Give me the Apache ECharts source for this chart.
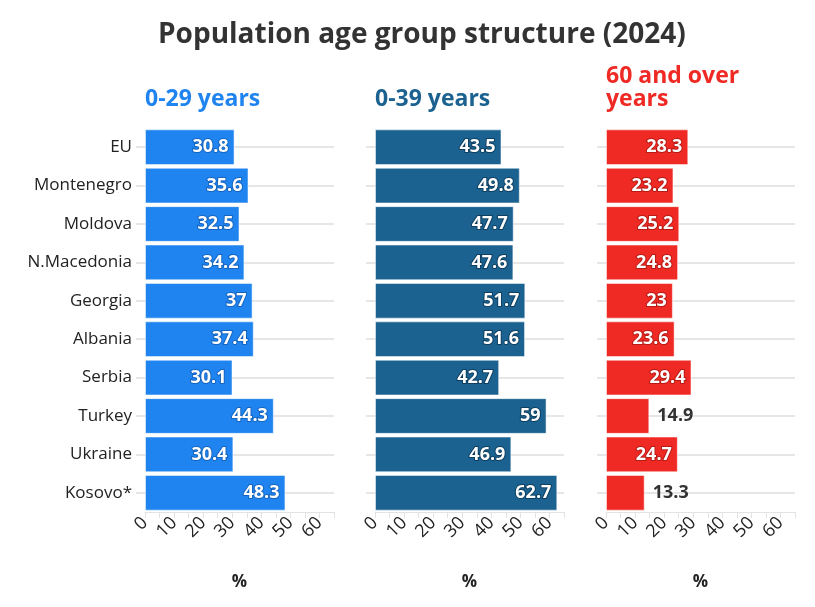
<!DOCTYPE html>
<html><head><meta charset="utf-8">
<script src="https://cdn.jsdelivr.net/npm/echarts@6/dist/echarts.min.js"></script>
<style>html,body{margin:0;padding:0;background:#fff}#c{width:815px;height:607px}</style>
</head><body><div id="c"></div>
<script>
var categories = ['EU','Montenegro','Moldova','N.Macedonia','Georgia','Albania','Serbia','Turkey','Ukraine','Kosovo*'];
var young29 = [30.8,35.6,32.5,34.2,37,37.4,30.1,44.3,30.4,48.3];
var young39 = [43.5,49.8,47.7,47.6,51.7,51.6,42.7,59,46.9,62.7];
var over60 = [28.3,23.2,25.2,24.8,23,23.6,29.4,14.9,24.7,13.3];
var panelTitles = ['0-29 years','0-39 years','60 and over\nyears'];
var colors = ['#1f84f0','#1b6290','#ef2923'];
var shadow = ['#1565c0','#0e3f60','#b81a15'];
var F = '"Open Sans", sans-serif';
var lefts = [145,375,606];
var W = 189;
var chart = echarts.init(document.getElementById('c'));
var seriesData = [young29, young39, over60];
var grids=[], xAxes=[], yAxes=[], series=[], titles=[];
titles.push({text:'Population age group structure (2024)',left:153,top:16,textStyle:{fontFamily:F,fontSize:28,fontWeight:'bold',color:'#333'}});
for (var i=0;i<3;i++){
  titles.push({text:panelTitles[i],left:lefts[i]-5,top:i===2?60:83,textStyle:{fontFamily:F,fontSize:23,fontWeight:'bold',color:colors[i],lineHeight:23}});
  grids.push({left:lefts[i],width:W,top:128,height:384});
  xAxes.push({type:'value',gridIndex:i,min:0,max:65,interval:5,
    name:'%',nameLocation:'middle',nameGap:62,nameTextStyle:{fontFamily:F,fontSize:17,fontWeight:'bold',color:'#222'},
    axisLine:{show:true,lineStyle:{color:'#e3e3e3',width:1}},
    axisTick:{show:true,length:6,lineStyle:{color:'#e3e3e3'}},
    splitLine:{show:false},
    axisLabel:{rotate:45,margin:8,fontFamily:F,fontSize:18,color:'#222',formatter:function(v){return v%10===0?String(v):'';}}});
  yAxes.push({type:'category',gridIndex:i,data:categories,inverse:true,
    axisLine:{show:false},
    axisTick:{show:true,alignWithLabel:true,length:9,lineStyle:{color:'#e6e6e6',width:2}},
    axisLabel:{show:i===0,fontFamily:F,fontSize:17,color:'#222',margin:13}});
  series.push({type:'line',xAxisIndex:i,yAxisIndex:i,data:[],z:1,silent:true,
    markLine:{z:1,silent:true,symbol:'none',label:{show:false},lineStyle:{color:'#e6e6e6',width:2,type:'solid'},
      data:categories.map(function(c){return {yAxis:c};})}});
  var d = seriesData[i].map(function(v){
    var inside = v>20;
    return {value:v,label:inside?{position:'insideRight',color:'#fff',textBorderColor:shadow[i],textBorderWidth:2}:{position:'right',color:'#333',textBorderWidth:0,distance:8}};
  });
  series.push({type:'bar',xAxisIndex:i,yAxisIndex:i,data:d,z:3,barCategoryGap:'7%',
    itemStyle:{color:colors[i],borderColor:'rgba(255,255,255,0.5)',borderWidth:1},
    label:{show:true,fontFamily:F,fontSize:18,fontWeight:'bold',distance:6}});
}
chart.setOption({animation:false,title:titles,grid:grids,xAxis:xAxes,yAxis:yAxes,series:series});
</script></body></html>
